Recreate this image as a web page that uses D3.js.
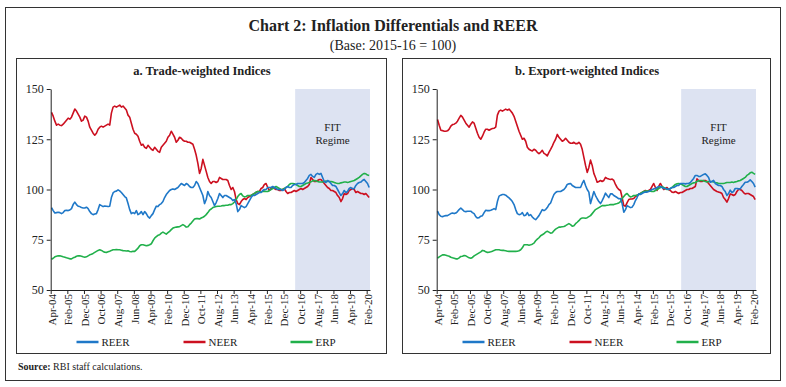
<!DOCTYPE html>
<html>
<head>
<meta charset="utf-8">
<script src="https://cdn.jsdelivr.net/npm/d3@7"></script>
<style>
  body { margin: 0; background: #fff; }
  svg text { font-family: "Liberation Serif", "DejaVu Serif", serif; fill: #222; }
</style>
</head>
<body>
<svg id="chart"></svg>
<script>
// monthly data, Apr-04 .. Mar-20 (one row = one fiscal year)
const tickLabels = ["Apr-04", "Feb-05", "Dec-05", "Oct-06", "Aug-07", "Jun-08", "Apr-09", "Feb-10", "Dec-10", "Oct-11",
  "Aug-12", "Jun-13", "Apr-14", "Feb-15", "Dec-15", "Oct-16", "Aug-17", "Jun-18", "Apr-19", "Feb-20"];
const yTicks = [50, 75, 100, 125, 150];
const seriesNames = ["REER", "NEER", "ERP"];
const panelTitles = ["a. Trade-weighted Indices", "b. Export-weighted Indices"];
const fitStart = 147; // Jul-16

// a. trade-weighted
const tradeREER = [
  91, 89.5, 88.3, 88.5, 88.7, 88.5, 88, 88.5, 89.5, 89.7, 89.5, 89.8,
  90.5, 92.5, 93.7, 92.5, 91.7, 91.5, 91, 90.8, 90.8, 91.2, 90.5, 89,
  88, 87.5, 87.8, 88, 90, 92.5, 92, 91.5, 91.8, 91.7, 91.5, 91.7,
  96, 98.3, 99, 99.2, 99.8, 99.3, 98.5, 97.5, 96.5, 95.8, 93, 90,
  88, 88.5, 88, 89.5, 87.5, 88, 89, 87.5, 89, 88, 86.5, 85.8,
  87, 88, 90, 91.7, 91.5, 92.5, 93, 94, 96, 97.5, 98.5, 99.5,
  100, 100.3, 100, 100.5, 101, 102, 103, 102.5, 102, 103, 102.5, 101.5,
  101, 101, 102, 104, 103, 101, 99, 97, 93, 95, 99, 97,
  96, 94, 92, 93.5, 95.5, 98, 97, 96, 97, 97, 96.5, 96,
  95.5, 94.5, 95, 93, 89, 90, 92, 91.5, 91, 91.5, 93, 94.5,
  96, 97, 97, 97.5, 98, 98.5, 98.5, 99.5, 100, 100, 101, 101,
  101, 101.5, 101, 100.5, 100, 100, 100, 99.5, 100, 101, 101.5, 101,
  101, 102, 102.5, 102.5, 103, 103, 103, 103, 103.5, 104.5, 105.5, 107,
  107.5, 106.5, 106, 107.5, 108, 107.5, 108, 106, 104, 103.5, 104.5, 104,
  103, 102, 102, 101.5, 100, 98.5, 97, 98, 99.5, 98.5, 99, 100.5,
  101, 100.3, 100.5, 102, 103, 103.5, 103.7, 104.5, 105, 104, 103, 101
];
const tradeNEER = [
  138.4, 136.5, 134, 132, 132.5, 132, 131.8, 132.5, 133.5, 134.5, 135.5, 135,
  136, 138, 140, 139, 137.5, 136, 134, 134.5, 136.5, 136, 134, 131,
  129.5, 128, 127, 128, 130, 131, 131.5, 131, 131.5, 132, 132.5, 132,
  138, 141, 141.5, 141, 141.5, 142, 141, 141.5, 140.5, 139.5, 137, 136,
  133, 130, 128, 127.5, 126.5, 124, 122, 122.5, 121, 120.5, 122, 121,
  120, 119.5, 121, 120, 119, 118.5, 121, 122, 123, 124, 126, 127,
  129, 127.5, 126, 123.5, 124.5, 126, 125.5, 124.5, 124, 124, 123.5, 123.5,
  123, 122.5, 120, 117, 113, 108, 110.5, 115, 112, 109, 106, 104,
  103, 104, 104, 103.5, 104, 106, 105.5, 105, 105, 105, 104.5, 102,
  100, 101, 99, 95, 93, 92.5, 94, 95, 95.5, 95, 96, 96.5,
  97, 97.5, 98, 98.5, 99, 99, 100.5, 101, 102.5, 103, 101, 99.5,
  100.5, 101, 100.5, 100, 100, 99.5, 99.5, 100, 100.5, 99, 98, 98.5,
  98.5, 99, 99.5, 99, 99.5, 100, 100.5, 100, 100.5, 101, 101.5, 102.5,
  106, 105, 104, 104, 104.5, 105, 105, 104, 103, 102, 101, 100.5,
  99.5, 99.5, 99, 98.5, 97, 96, 94, 95.5, 98, 97.5, 98, 99.5,
  100, 100.5, 100, 98.5, 99, 98.5, 98, 98, 97.5, 98, 97, 96
];
const tradeERP = [
  65.3, 65.8, 66.5, 66.8, 67, 67, 66.8, 66.5, 66.3, 66, 65.8, 65.5,
  65.5, 66, 66.3, 66.8, 67, 67, 66.8, 66.5, 66.3, 66.5, 67, 67.5,
  67.8, 68.2, 68.7, 69.2, 69.7, 70, 69.7, 69.2, 68.8, 68.7, 69, 69.3,
  69.7, 70, 70, 70.1, 70, 70, 69.8, 69.6, 69.5, 69.4, 69.5, 69.2,
  69, 69.3, 69.2, 70, 70.8, 72, 72.5, 72.5, 72.3, 72, 72.2, 72.5,
  73, 74.5, 75.8, 76.5, 77.2, 77.5, 78.3, 78.8, 78.3, 77.8, 78.5, 79.2,
  80, 80.8, 81.1, 81.3, 81.4, 81.5, 82, 82.5, 82, 81.3, 81.5, 82.5,
  83.3, 84.3, 85.3, 85.5, 85.5, 85.3, 85.8, 86.2, 86.7, 87.5, 88.5, 89.7,
  90.3, 91, 91.3, 91.5, 91.7, 91.7, 91.8, 92, 92, 92.2, 92.2, 92.5,
  92.5, 93, 93.8, 95, 96.5, 97.5, 98, 96.8, 96.3, 96.5, 97, 97,
  97, 97.5, 98, 98.7, 99, 99, 98.8, 99, 99.2, 99, 99, 99.5,
  100, 100.5, 101, 101.5, 101, 100.5, 100, 100, 100.5, 101, 101.5, 102.5,
  103, 103, 102.8, 102.5, 102, 101.5, 101.5, 102, 102.5, 103, 103.2, 103.5,
  103.8, 104.3, 104.5, 104.3, 104, 103.7, 103.7, 103.8, 104, 104.2, 104, 104,
  104, 103.8, 103.5, 103.2, 103, 103, 103.3, 103.5, 103.7, 103.7, 103.5, 103.7,
  104, 104.2, 104.5, 105, 105.5, 106, 106.8, 107.5, 108, 107.8, 107.2, 107
];

// b. export-weighted
const exportREER = [
  89.2, 87.5, 86.7, 86.5, 86.8, 87, 87, 87.5, 88, 88.3, 88, 88.3,
  89, 90, 90.8, 90, 89.2, 89, 89.2, 89.2, 89.2, 88.5, 88, 86.5,
  85.8, 86, 86.7, 87, 88.5, 89.7, 89.5, 89.5, 89.7, 90, 90.5, 90,
  94, 96.7, 97.2, 97.5, 97.5, 97.2, 96.5, 95.8, 95, 94, 92.5, 90,
  88, 87.5, 87.7, 88.5, 87, 87.2, 88.5, 87, 87.5, 86.3, 85.5, 85,
  86, 87, 88.5, 90, 89.5, 90, 91, 92.5, 93.3, 95.5, 97.5, 98.5,
  99, 99, 99, 99.5, 100, 101, 102.5, 102.8, 103, 102, 101.5, 101,
  101, 101, 101, 103, 104.5, 102, 100, 98.7, 93, 96, 99, 97,
  95.4, 94, 93, 94.5, 96.2, 98.2, 97, 96, 97.8, 97.8, 97, 96.5,
  96, 95.4, 95.5, 93, 88.7, 90, 92, 91.5, 91, 91.2, 92.5, 94.5,
  96, 97.8, 97.5, 98, 98.5, 98.7, 98.7, 99, 99.5, 100, 100.3, 100.5,
  101, 101.5, 101.5, 101, 100.5, 100.5, 100.3, 100, 100.5, 101, 101, 101.5,
  102, 102, 103, 103, 103, 102.8, 103, 103, 103.5, 104.5, 105.5, 107,
  107, 106.5, 106.5, 107, 107.5, 107.8, 107, 106, 103.6, 104, 104.5, 103,
  102.5, 102, 102, 101.5, 100, 99, 97, 98, 99.7, 98.5, 99, 100.5,
  100.5, 100.3, 100.3, 101.5, 102.5, 103.6, 103.6, 104, 104.8, 104, 103, 101.2
];
const exportNEER = [
  134.8, 132, 129.5, 129.3, 129, 129, 129.2, 130, 131.5, 132.3, 132.5, 133,
  134, 135.5, 136.9, 136, 134.5, 133, 132, 131, 132.5, 133.6, 133, 130.5,
  128, 126, 125, 126.5, 128.5, 130, 130, 129.5, 130, 130.3, 130.5, 131,
  137, 139, 139.5, 139, 139.5, 140, 139.5, 140, 139, 138, 136.4, 134,
  131.5, 129, 127, 125, 125.5, 124, 121, 120, 119.5, 119.2, 120, 119.5,
  118.5, 117.8, 118.5, 119.5, 118, 117.5, 116.7, 118.5, 120, 121.6, 123.5, 125,
  127.4, 126, 125, 124, 124.5, 125.5, 124.5, 123.5, 123, 123, 123.5, 122.8,
  122.8, 123.5, 122.5, 120, 116, 112, 108.5, 111, 114.6, 112, 108, 106,
  103.6, 104, 104.5, 104, 104.5, 106, 105.5, 105.2, 105, 105.2, 104.5, 102.5,
  101, 100, 99.5, 96, 92, 91.7, 93.5, 95, 95.3, 95.3, 95.5, 96.5,
  97, 97.5, 98, 98.5, 99, 99.5, 99, 99.5, 100, 101.5, 103, 101,
  99.5, 101.5, 103, 101.5, 100, 100.5, 101, 100, 99.5, 98.7, 98.5, 99,
  98.5, 98, 98.5, 98.5, 99, 99.5, 100, 100, 100.5, 100.5, 101, 101.5,
  105.3, 104.5, 104, 104, 104.5, 104.5, 104, 103, 102, 101, 100, 99.5,
  99, 98.7, 98.5, 98, 96, 95, 93.7, 95.5, 97.8, 97.5, 97, 97.5,
  99, 100, 100, 99.5, 98.5, 97.8, 98, 98, 97.5, 97, 96.5, 95
];
const exportERP = [
  65.8, 66.5, 67, 67.5, 67.5, 67.3, 67, 66.8, 66.3, 66, 65.8, 65.5,
  65.5, 66, 66.7, 66.8, 67.2, 67, 66.5, 66, 65.8, 66.2, 67, 67.5,
  68, 68.5, 69, 69.7, 69.5, 69, 68.7, 68.8, 69, 69.3, 69.7, 70,
  70, 70, 69.8, 69.7, 69.7, 69.5, 69.3, 69.2, 69.2, 69.2, 69.2, 69.2,
  69.3, 69.5, 70, 71, 72.5, 72.5, 72.5, 72.3, 72.5, 72.8, 73.3, 74.5,
  75.3, 76, 77, 77.5, 78, 78.8, 79.2, 78.8, 78.3, 78.5, 79.5, 80.3,
  80.8, 81.3, 81.3, 81.5, 81.6, 82, 82.5, 83, 82.5, 81.7, 82, 83,
  83.7, 84.5, 85.5, 85.8, 85.8, 85.7, 86, 86.5, 87, 88, 89, 90,
  90.5, 91, 91.5, 92, 92, 92, 92.2, 92.3, 92.5, 92.5, 92.5, 92.8,
  93, 93.3, 94, 95.5, 96.5, 97.5, 98, 97, 96.3, 96.5, 97, 97,
  97.2, 97.5, 98, 98.5, 99, 99.2, 99.2, 99.2, 99.2, 99, 99, 99.5,
  100, 100.5, 101, 101.5, 101, 100.5, 100, 100, 100.5, 101, 101.8, 102.5,
  102.8, 103, 102.8, 102.5, 102, 101.5, 101.5, 102, 102.5, 103, 103.3, 103.5,
  104, 104.3, 104.5, 104.5, 104.3, 104, 103.8, 104, 104, 104, 103.8, 103.5,
  103.3, 103, 103, 103, 103, 103.2, 103.5, 103.5, 103.5, 103.7, 103.5, 103.8,
  104, 104.3, 104.5, 105, 105.5, 106, 107, 107.5, 108.3, 108.6, 108, 107.5
];

const colors = { REER: "#1f78c8", NEER: "#cc1020", ERP: "#21b04b" };

const W = 786, H = 387;
const svg = d3.select("#chart").attr("width", W).attr("height", H);

// outer frame
svg.append("rect").attr("x", 5.5).attr("y", 7.5).attr("width", 775).attr("height", 373)
  .attr("fill", "none").attr("stroke", "#333").attr("stroke-width", 1);

svg.append("text").attr("x", 393).attr("y", 31).attr("text-anchor", "middle")
  .style("font-size", "16px").style("font-weight", "bold")
  .text("Chart 2: Inflation Differentials and REER");
svg.append("text").attr("x", 393).attr("y", 50).attr("text-anchor", "middle")
  .style("font-size", "14px")
  .text("(Base: 2015-16 = 100)");

const src = svg.append("text").attr("x", 18).attr("y", 370).style("font-size", "10px");
src.append("tspan").style("font-weight", "bold").text("Source: ");
src.append("tspan").text("RBI staff calculations.");

function drawPanel(box, plot, title, data) {
  const n = data.REER.length;
  svg.append("rect").attr("x", box.x).attr("y", box.y).attr("width", box.w).attr("height", box.h)
    .attr("fill", "none").attr("stroke", "#333").attr("stroke-width", 1);

  svg.append("text").attr("x", box.x + box.w / 2 + 0.5).attr("y", 75).attr("text-anchor", "middle")
    .style("font-size", "12.5px").style("font-weight", "bold").text(title);

  const x = d3.scaleLinear().domain([0, n]).range([plot.x0, plot.x1]);
  const y = d3.scaleLinear().domain([50, 150]).range([plot.y1, plot.y0]);

  // FIT regime shading
  svg.append("rect").attr("x", x(fitStart)).attr("y", y(150))
    .attr("width", x(n) - x(fitStart)).attr("height", y(50) - y(150))
    .attr("fill", "#dde3f2");
  const fx = (x(fitStart) + x(n)) / 2;
  svg.append("text").attr("x", fx).attr("y", 131).attr("text-anchor", "middle")
    .style("font-size", "11px").text("FIT");
  svg.append("text").attr("x", fx).attr("y", 144).attr("text-anchor", "middle")
    .style("font-size", "11px").text("Regime");

  // lines
  const line = d3.line().x((d, i) => x(i + 0.5)).y(d => y(d));
  ["NEER", "ERP", "REER"].forEach(k => {
    svg.append("path").datum(data[k]).attr("d", line)
      .attr("fill", "none").attr("stroke", colors[k]).attr("stroke-width", 1.6)
      .attr("stroke-linejoin", "round");
  });

  // y axis
  const ya = svg.append("g").attr("transform", `translate(${plot.x0},0)`)
    .call(d3.axisLeft(y).tickValues(yTicks).tickSize(4).tickSizeOuter(0));
  ya.select(".domain").attr("stroke", "#222");
  ya.selectAll("line").attr("stroke", "#222");
  ya.selectAll("text").style("font-size", "12px").attr("fill", "#222")
    .style("font-family", "'Liberation Serif', serif").attr("x", -7);

  // x axis
  const tickIdx = tickLabels.map((d, i) => i * 10);
  const xa = svg.append("g").attr("transform", `translate(0,${plot.y1})`)
    .call(d3.axisBottom(x).tickValues(tickIdx).tickSize(4).tickSizeOuter(0).tickFormat(""));
  xa.select(".domain").attr("stroke", "#222");
  xa.selectAll("line").attr("stroke", "#222");
  svg.append("g").selectAll("text").data(tickLabels).enter().append("text")
    .attr("transform", (d, i) => `translate(${x(i * 10 + 0.5) + 4},${plot.y1 + 4}) rotate(-90)`)
    .attr("text-anchor", "end")
    .style("font-size", "11px")
    .text(d => d);

  // legend
  const lg = svg.append("g");
  seriesNames.forEach((k, i) => {
    const lx = box.x + 60 + i * 107;
    lg.append("line").attr("x1", lx).attr("x2", lx + 22).attr("y1", 342).attr("y2", 342)
      .attr("stroke", colors[k]).attr("stroke-width", 2.5);
    lg.append("text").attr("x", lx + 25).attr("y", 346).style("font-size", "11px").text(k);
  });
}

drawPanel({ x: 16.5, y: 58.5, w: 370, h: 295 }, { x0: 50.7, x1: 370, y0: 89, y1: 290 },
  panelTitles[0], { REER: tradeREER, NEER: tradeNEER, ERP: tradeERP });
drawPanel({ x: 402.5, y: 58.5, w: 368, h: 295 }, { x0: 436.7, x1: 756, y0: 89, y1: 290 },
  panelTitles[1], { REER: exportREER, NEER: exportNEER, ERP: exportERP });
</script>
</body>
</html>
